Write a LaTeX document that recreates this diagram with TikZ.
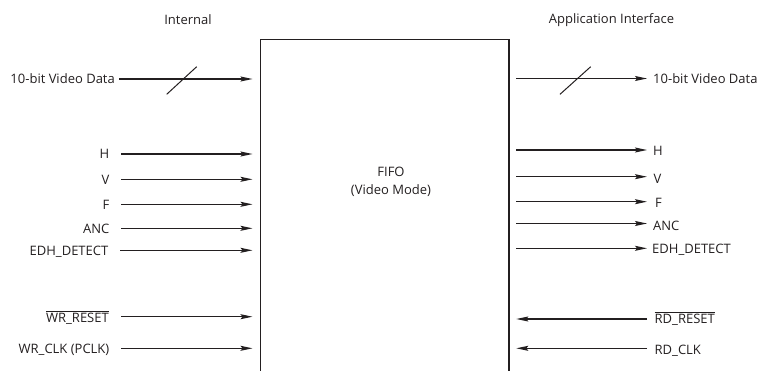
\documentclass[tikz,border=0pt]{standalone}
\usepackage{fontspec}
\setmainfont{Open Sans}
\usetikzlibrary{arrows.meta}
\definecolor{ink}{HTML}{231F20}
\begin{document}
\begin{tikzpicture}[x=1pt,y=-1pt,
  lbl/.style={font=\fontsize{13}{15}\selectfont, text=ink, inner sep=0pt, text height=9.3pt, text depth=0pt},
  llbl/.style={lbl, anchor=east},
  rlbl/.style={lbl, anchor=west},
  hdr/.style={font=\fontsize{13}{15}\selectfont, text=ink, inner sep=0pt},
  sig/.style={draw=ink, line width=1.2pt, -{Stealth[length=12pt,width=5pt,inset=2pt]}},
  busmark/.style={draw=ink, line width=1pt}]
\useasboundingbox (0,0) rectangle (764,370);

% headers
\node[hdr] (hint) at (188,20) {Internal};
\node[hdr] (happ) at (611.5,20) {Application Interface};

% FIFO box
\node[draw=ink, line width=1.3pt, anchor=north west, inner sep=0pt,
      minimum width=248.3pt, minimum height=380pt] (fifo) at (260,39) {};
\node[hdr, align=center, font=\fontsize{13}{18}\selectfont] (fifotxt) at (391,182) {FIFO\\(Video Mode)};

% ---------- left side (inputs) ----------
\node[llbl] (lvid) at (115,79) {10-bit Video Data};
\node[llbl] (lH)   at (109.5,154) {H};
\node[llbl] (lV)   at (109.5,179.5) {V};
\node[llbl] (lF)   at (109.5,204.5) {F};
\node[llbl] (lANC) at (109.5,228.5) {ANC};
\node[llbl] (lEDH) at (108.5,250.5) {EDH\_DETECT};
\node[llbl] (lWRR) at (109,317.5) {$\overline{\mbox{WR\_RESET}}$};
\node[llbl] (lWRC) at (109.5,348.5) {WR\_CLK (PCLK)};

\coordinate (svid) at (119,79);
\coordinate (sH)   at (121,154);
\coordinate (sV)   at (121,179.3);
\coordinate (sF)   at (121,204.3);
\coordinate (sANC) at (121,228.3);
\coordinate (sEDH) at (120,250.3);
\coordinate (sWRR) at (121,316.7);
\coordinate (sWRC) at (121,348.3);

\foreach \c in {svid,sH,sV,sF,sANC,sEDH,sWRR,sWRC}
  \draw[sig, shorten >=7.5pt] (\c) -- (\c -| fifo.west);

\draw[busmark] (166.7,94.3) -- (196.7,66.7);

% ---------- right side ----------
\coordinate (tvid) at (647,78.5);
\coordinate (tH)   at (647,150);
\coordinate (tV)   at (647,176.7);
\coordinate (tF)   at (647,201.7);
\coordinate (tANC) at (647,223.5);
\coordinate (tEDH) at (647,248.3);
\coordinate (tRDR) at (647,319);
\coordinate (tRDC) at (647,348.3);

\foreach \c in {tvid,tH,tV,tF,tANC,tEDH}
  \draw[sig, shorten <=6.7pt] (\c -| fifo.east) -- (\c);
\foreach \c in {tRDR,tRDC}
  \draw[sig, shorten >=6.7pt] (\c) -- (\c -| fifo.east);

\draw[busmark] (560,94.3) -- (590.7,66.7);

\node[rlbl] (rvid) at (653,79) {10-bit Video Data};
\node[rlbl] (rH)   at (653,150.5) {H};
\node[rlbl] (rV)   at (653.5,179) {V};
\node[rlbl] (rF)   at (655,203) {F};
\node[rlbl] (rANC) at (653,226) {ANC};
\node[rlbl] (rEDH) at (652,249) {EDH\_DETECT};
\node[rlbl] (rRDR) at (654.5,318.5) {$\overline{\mbox{RD\_RESET}}$};
\node[rlbl] (rRDC) at (654.5,350) {RD\_CLK};
\end{tikzpicture}
\end{document}
